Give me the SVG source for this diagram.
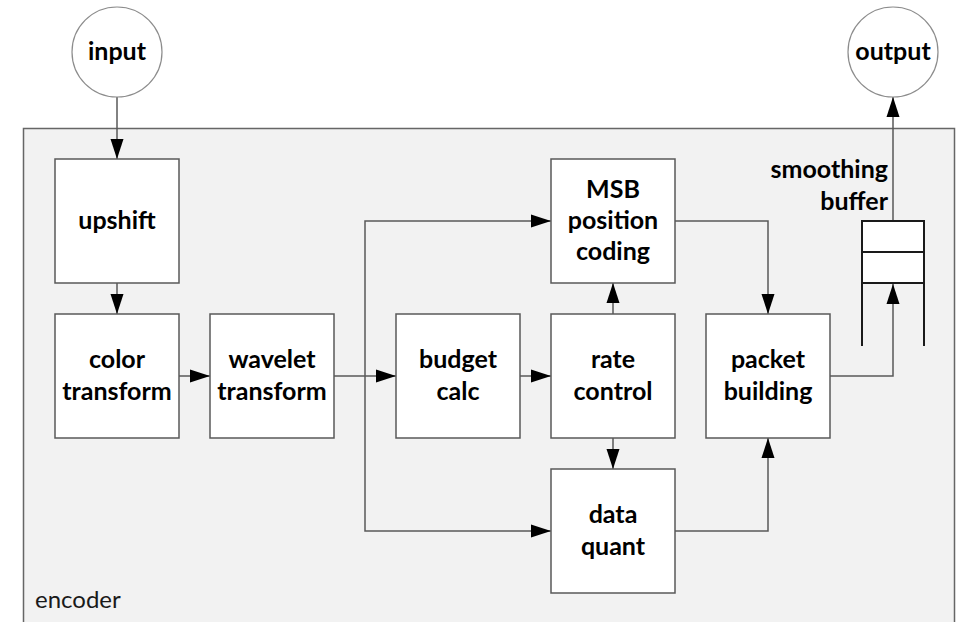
<svg xmlns="http://www.w3.org/2000/svg" width="961" height="622" viewBox="0 0 961 622">
  <style>
    .box { fill: #ffffff; stroke: #595959; stroke-width: 1.5; }
    .circ { fill: #ffffff; stroke: #8c8c8c; stroke-width: 1.2; }
    .lbl { font-family: Lato, "Open Sans", sans-serif; font-weight: bold; font-size: 25px; fill: #000; text-anchor: middle; }
    .conn { fill: none; stroke: #595959; stroke-width: 1.5; }
    .buf { fill: #ffffff; stroke: #1a1a1a; stroke-width: 2; }
    .bufline { fill: none; stroke: #1a1a1a; stroke-width: 2; }
  </style>
  <defs>
    <marker id="arr" viewBox="0 0 20 14" refX="20" refY="7" markerWidth="20" markerHeight="14" markerUnits="userSpaceOnUse" orient="auto">
      <path d="M0,0.5 L20,7 L0,13.5 Z" fill="#000"/>
    </marker>
  </defs>

  <g id="encoder">
    <rect x="23.5" y="128.5" width="931" height="520" fill="#f2f2f2" stroke="#666666" stroke-width="1.5"/>
    <text x="35" y="608" font-family="Lato, 'Open Sans', sans-serif" font-size="24" fill="#1a1a1a">encoder</text>
  </g>

  <g id="connectors">
    <line class="conn" x1="117" y1="97" x2="117" y2="159" marker-end="url(#arr)"/>
    <line class="conn" x1="117" y1="283" x2="117" y2="314" marker-end="url(#arr)"/>
    <line class="conn" x1="179" y1="376" x2="210" y2="376" marker-end="url(#arr)"/>
    <line class="conn" x1="334" y1="376" x2="396" y2="376" marker-end="url(#arr)"/>
    <polyline class="conn" points="365,376 365,221 551,221" marker-end="url(#arr)"/>
    <polyline class="conn" points="365,376 365,531 551,531" marker-end="url(#arr)"/>
    <line class="conn" x1="520" y1="376" x2="551" y2="376" marker-end="url(#arr)"/>
    <line class="conn" x1="613" y1="314" x2="613" y2="283" marker-end="url(#arr)"/>
    <line class="conn" x1="613" y1="438" x2="613" y2="469" marker-end="url(#arr)"/>
    <polyline class="conn" points="675,221 768,221 768,314" marker-end="url(#arr)"/>
    <polyline class="conn" points="675,531 768,531 768,438" marker-end="url(#arr)"/>
    <polyline class="conn" points="830,376 893,376 893,284" marker-end="url(#arr)"/>
    <line class="conn" x1="893" y1="221" x2="893" y2="97" marker-end="url(#arr)"/>
  </g>

  <g id="input">
    <circle class="circ" cx="117" cy="52" r="45"/>
    <text class="lbl" x="117" y="60">input</text>
  </g>

  <g id="output">
    <circle class="circ" cx="893" cy="52" r="45"/>
    <text class="lbl" x="893" y="60">output</text>
  </g>

  <g id="upshift">
    <rect class="box" x="55" y="159" width="124" height="124"/>
    <text class="lbl" x="117" y="229">upshift</text>
  </g>

  <g id="color-transform">
    <rect class="box" x="55" y="314" width="124" height="124"/>
    <text class="lbl" x="117" y="368">color</text>
    <text class="lbl" x="117" y="400">transform</text>
  </g>

  <g id="wavelet-transform">
    <rect class="box" x="210" y="314" width="124" height="124"/>
    <text class="lbl" x="272" y="368">wavelet</text>
    <text class="lbl" x="272" y="400">transform</text>
  </g>

  <g id="budget-calc">
    <rect class="box" x="396" y="314" width="124" height="124"/>
    <text class="lbl" x="458" y="368">budget</text>
    <text class="lbl" x="458" y="400">calc</text>
  </g>

  <g id="msb-position-coding">
    <rect class="box" x="551" y="159" width="124" height="124"/>
    <text class="lbl" x="613" y="198">MSB</text>
    <text class="lbl" x="613" y="229">position</text>
    <text class="lbl" x="613" y="260">coding</text>
  </g>

  <g id="rate-control">
    <rect class="box" x="551" y="314" width="124" height="124"/>
    <text class="lbl" x="613" y="368">rate</text>
    <text class="lbl" x="613" y="400">control</text>
  </g>

  <g id="data-quant">
    <rect class="box" x="551" y="469" width="124" height="124"/>
    <text class="lbl" x="613" y="523">data</text>
    <text class="lbl" x="613" y="555">quant</text>
  </g>

  <g id="packet-building">
    <rect class="box" x="706" y="314" width="124" height="124"/>
    <text class="lbl" x="768" y="368">packet</text>
    <text class="lbl" x="768" y="400">building</text>
  </g>

  <g id="smoothing-buffer">
    <rect class="buf" x="862" y="221" width="62" height="31"/>
    <rect class="buf" x="862" y="252" width="62" height="31"/>
    <line class="bufline" x1="862" y1="283" x2="862" y2="346"/>
    <line class="bufline" x1="924" y1="283" x2="924" y2="346"/>
    <text class="lbl" x="888" y="178" style="text-anchor:end">smoothing</text>
    <text class="lbl" x="888" y="210" style="text-anchor:end">buffer</text>
  </g>
</svg>
